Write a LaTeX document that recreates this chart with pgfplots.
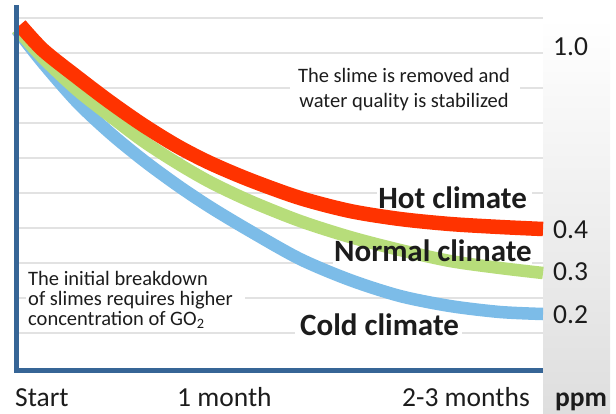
\documentclass[border=0pt]{standalone}
\usepackage{fontspec}
\setmainfont{Carlito}
\usepackage{pgfplots}
\pgfplotsset{compat=1.18}

\definecolor{axisblue}{RGB}{54,101,150}
\definecolor{hotred}{RGB}{255,51,0}
\definecolor{normgreen}{RGB}{183,221,122}
\definecolor{coldblue}{RGB}{124,188,232}
\definecolor{gridgray}{RGB}{226,226,226}
\definecolor{panelgray}{RGB}{222,222,222}
\definecolor{txt}{RGB}{28,28,28}

% curve data, x = horizontal position, y = height above the picture bottom
\pgfplotstableread{
x y
20 388
43 363
77 336
110 311
143 288
177 267
210 250
250 233
300 215
350 202
400 194
450 189
500 186
543 184
}\hot
\pgfplotstableread{
x y
17 384
43 355
77 323
110 297
143 272
177 250
210 231
250 212
300 192
350 176
400 163
450 152
500 145
543 140
}\normal
\pgfplotstableread{
x y
17 383
43 350
77 311
110 280
143 253
177 228
210 206
250 182
300 154
350 133
400 117
450 107
500 101
543 99
}\cold

\begin{document}
\begin{tikzpicture}[x=1bp,y=1bp]
\useasboundingbox (0,0) rectangle (616,413);
\shade[top color=white, bottom color=panelgray] (543,0) rectangle (610,395);

\begin{axis}[
    at={(17bp,43bp)}, anchor=south west,
    scale only axis, width=526bp, height=365bp,
    xmin=17, xmax=543, ymin=43, ymax=408,
    axis line style={draw=none},
    xtick=\empty,
    ytick={80,115,...,395}, yticklabels={},
    major tick length=0pt,
    ymajorgrids,
    major grid style={gridgray, line width=1.7bp},
    clip=false
]
% white gaps behind the labels
\fill[white] (axis cs:290,317) rectangle (axis cs:520,333);
\fill[white] (axis cs:26,107) rectangle (axis cs:245,123);
\fill[white] (axis cs:377,212) rectangle (axis cs:532,228);
\fill[white] (axis cs:333,142) rectangle (axis cs:532,193);
\fill[white] (axis cs:295,72) rectangle (axis cs:462,88);

\addplot[coldblue, line width=12.5bp, smooth] table {\cold};
\addplot[normgreen, line width=12.5bp, smooth] table {\normal};
\addplot[hotred, line width=14.5bp, smooth] table {\hot};

\draw[axisblue, line width=4.5bp] (axis cs:14,42.5) -- (axis cs:543,42.5);
\draw[axisblue, line width=5bp] (axis cs:16.5,40.5) -- (axis cs:16.5,408);
\end{axis}

\begin{scope}[every node/.style={inner sep=0pt, text=txt}]
\tikzset{ax/.style={font=\fontsize{27.5bp}{30bp}\selectfont},
         big/.style={font=\fontsize{31bp}{34bp}\selectfont\bfseries},
         note/.style={font=\fontsize{20.5bp}{22bp}\selectfont}}
\node[ax, anchor=base west] at (553,358) {1.0};
\node[ax, anchor=base west] at (553,175) {0.4};
\node[ax, anchor=base west] at (553,133) {0.3};
\node[ax, anchor=base west] at (553,90) {0.2};
\node[ax, anchor=base west, font=\fontsize{27.5bp}{30bp}\selectfont\bfseries] at (555,7) {ppm};
\node[ax, anchor=base west] at (15,7) {Start};
\node[ax, anchor=base west] at (177,7) {1 month};
\node[ax, anchor=base east] at (530,7) {2-3 months};

\node[big, anchor=base east] at (527,205) {Hot climate};
\node[big, anchor=base east] at (532,152) {Normal climate};
\node[big, anchor=base west] at (300,78) {Cold climate};

\node[note, anchor=base] at (404,331) {The slime is removed and};
\node[note, anchor=base] at (404,306) {water quality is stabilized};

\node[note, anchor=base west] at (28,128) {The initial breakdown};
\node[note, anchor=base west] at (28,108) {of slimes requires higher};
\node[note, anchor=base west] at (28,88) {concentration of GO\textsubscript{2}};
\end{scope}
\end{tikzpicture}
\end{document}
